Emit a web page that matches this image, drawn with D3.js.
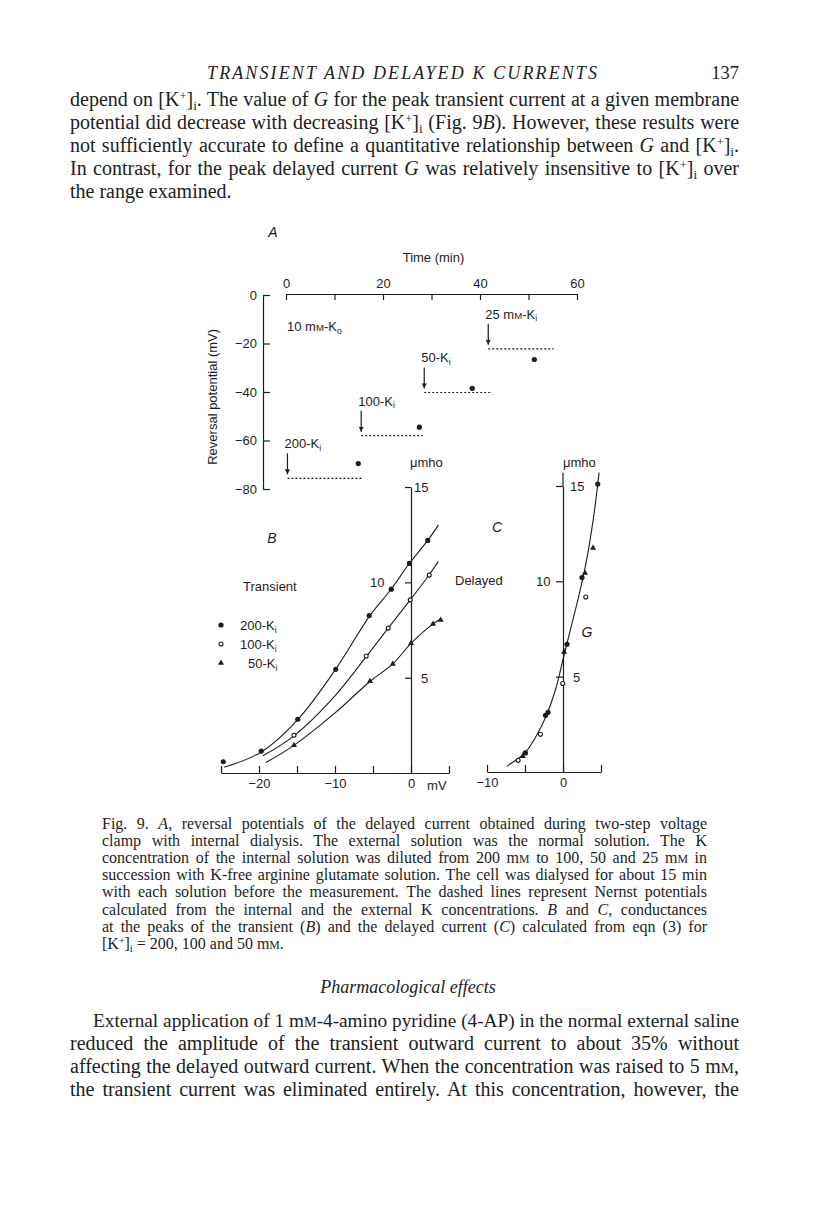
<!DOCTYPE html>
<html>
<head>
<meta charset="utf-8">
<script src="https://cdn.jsdelivr.net/npm/d3@7"></script>
<style>
  body { margin: 0; background: #fff; }
</style>
</head>
<body>
<div id="page"></div>
<script>
// ---- panel A : reversal potential vs time ----
const timeTicks = [0, 10, 20, 30, 40, 50, 60];
const vrevTicks = [0, -20, -40, -60, -80];
const solLabels = ['200-K_{i}', '100-K_{i}', '50-K_{i}', '25 m~M~-K_{i}'];
const arrowTime = [0.3, 15.5, 28.5, 41.7];
const nernstEnd = [15.8, 28.2, 42.2, 55.2];
const nernstVal = [-75.6, -58.0, -40.2, -22.2];
const measTime = [14.9, 27.5, 38.4, 51.2];
const measVal = [-69.5, -54.5, -38.5, -26.6];

// ---- panel B : transient conductance ----
const bVolt200 = [-24.7, -19.7, -14.9, -9.9, -5.5, -2.6, -0.2, 2.2];
const bG200 = [0.59, 1.15, 2.82, 5.44, 8.26, 9.64, 10.99, 12.2];
const bVolt100 = [-15.4, -5.9, -3.0, -0.1, 2.4];
const bG100 = [1.98, 6.14, 7.6, 9.08, 10.38];
const bVolt50 = [-15.4, -5.4, -2.4, 0, 2.9, 3.9];
const bG50 = [1.45, 4.81, 5.72, 6.8, 7.82, 8.03];
// fitted curves drawn by hand in the original
const fitVolt200 = [-24.6, -19.7, -14.9, -9.9, -5.5, -2.6, -0.2, 2.2, 3.6];
const fitG200 = [0.3, 1.1, 2.8, 5.45, 8.2, 9.65, 11.0, 12.2, 13.0];
const fitVolt100 = [-19.5, -15.4, -10, -5.9, -3, -0.1, 2.4, 3.6];
const fitG100 = [0.9, 1.95, 4.05, 6.1, 7.6, 9.08, 10.4, 11.1];
const fitVolt50 = [-19.1, -15.4, -10, -5.4, -2.4, 0, 2.9, 4.0];
const fitG50 = [0.55, 1.45, 3.15, 4.8, 5.72, 6.8, 7.82, 8.1];
const bVoltTicks = [-25, -20, -15, -10, -5, 0, 5];
const gTicks = [5, 10, 15];

// ---- panel C : delayed conductance ----
const cVolt200 = [4.57, 2.5, 0.53, -1.97, -2.3, -4.95];
const cG200 = [15.1, 10.2, 6.7, 3.13, 2.97, 1.0];
const cVolt100 = [3.0, -0.04, -2.97, -5.9];
const cG100 = [9.18, 4.64, 1.98, 0.61];
const cVolt50 = [3.95, 2.9, 0.15, -5.3];
const cG50 = [11.75, 10.44, 6.3, 0.82];
const fitVoltC = [-7.4, -6, -5, -3.5, -2.2, -1, 0, 1, 2, 3, 4, 4.75];
const fitGC = [0.3, 0.68, 1.0, 1.9, 2.95, 4.3, 5.9, 7.5, 9.1, 10.9, 13.3, 15.7];
const cVoltTicks = [-10, -5, 0, 5];

// ---- page text ----
const headerText = 'TRANSIENT AND DELAYED K CURRENTS';
const pageNumber = '137';
const para1 = [
  'depend on [K^{+}]_{i}. The value of *G* for the peak transient current at a given membrane',
  'potential did decrease with decreasing [K^{+}]_{i} (Fig. 9*B*). However, these results were',
  'not sufficiently accurate to define a quantitative relationship between *G* and [K^{+}]_{i}.',
  'In contrast, for the peak delayed current *G* was relatively insensitive to [K^{+}]_{i} over',
  'the range examined.'
];
const caption = [
  'Fig. 9. *A*, reversal potentials of the delayed current obtained during two-step voltage',
  'clamp with internal dialysis. The external solution was the normal solution. The K',
  'concentration of the internal solution was diluted from 200 m~M~ to 100, 50 and 25 m~M~ in',
  'succession with K-free arginine glutamate solution. The cell was dialysed for about 15 min',
  'with each solution before the measurement. The dashed lines represent Nernst potentials',
  'calculated from the internal and the external K concentrations. *B* and *C*, conductances',
  'at the peaks of the transient (*B*) and the delayed current (*C*) calculated from eqn (3) for',
  '[K^{+}]_{i} = 200, 100 and 50 m~M~.'
];
const sectionTitle = 'Pharmacological effects';
const para2 = [
  'External application of 1 m~M~-4-amino pyridine (4-AP) in the normal external saline',
  'reduced the amplitude of the transient outward current to about 35% without',
  'affecting the delayed outward current. When the concentration was raised to 5 m~M~,',
  'the transient current was eliminated entirely. At this concentration, however, the'
];

const W = 816, H = 1212;
const ink = '#1d1d1d';
const sans = "'Liberation Sans', Arial, sans-serif";
const serif = "'Liberation Serif', 'Times New Roman', serif";

const svg = d3.select('#page').append('svg')
  .attr('width', W).attr('height', H)
  .style('background', '#fff');

// small markup: *italic*  ^{sup}  _{sub}  ~smallcap~
function fillSpans(t, str, size) {
  t.selectAll('tspan').remove();
  let shift = 0;
  str.split(/(\*[^*]+\*|\^\{[^}]*\}|_\{[^}]*\}|~[^~]+~)/).filter(s => s).forEach(s => {
    const sp = t.append('tspan');
    let dy = 0;
    if (s[0] === '*' && s.length > 1) {
      sp.text(s.slice(1, -1)).attr('font-style', 'italic');
    } else if (s.startsWith('^{')) {
      sp.text(s.slice(2, -1)).attr('font-size', size * 0.62);
      dy = -size * 0.28;
    } else if (s.startsWith('_{')) {
      sp.text(s.slice(2, -1)).attr('font-size', size * 0.66);
      dy = size * 0.2;
    } else if (s[0] === '~') {
      sp.text(s.slice(1, -1)).attr('font-size', size * 0.74);
    } else {
      sp.text(s);
    }
    if (dy - shift !== 0) sp.attr('dy', dy - shift);
    shift = dy;
  });
}

function richText(g, str, x, y, o) {
  let size = o.size;
  const t = g.append('text')
    .attr('x', x).attr('y', y)
    .attr('font-family', o.family)
    .attr('font-size', size)
    .attr('fill', ink);
  if (o.anchor) t.attr('text-anchor', o.anchor);
  if (o.italic) t.attr('font-style', 'italic');
  if (o.rotate) t.attr('transform', `rotate(${o.rotate},${x},${y})`);
  fillSpans(t, str, size);
  // justify: shrink the face if the line is too long, then widen word gaps
  if (o.width) {
    let natural = t.node().getComputedTextLength();
    while (natural > o.width && size > 8) {
      size -= 0.25;
      t.attr('font-size', size);
      fillSpans(t, str, size);
      natural = t.node().getComputedTextLength();
    }
    const gaps = (t.text().match(/ /g) || []).length;
    if (o.letters) {
      t.attr('letter-spacing', (o.width - natural) / (t.text().length - 1));
    } else if (gaps) {
      t.attr('word-spacing', (o.width - natural) / gaps);
    }
  }
  return t;
}

// ---------- page text ----------
const textG = svg.append('g');
richText(textG, headerText, 207, 79, { family: serif, size: 18, italic: true, width: 390, letters: true });
richText(textG, pageNumber, 739, 79, { family: serif, size: 18.5, anchor: 'end' });

para1.forEach((line, i) => {
  const last = i === para1.length - 1;
  richText(textG, line, 70, 106 + i * 23, { family: serif, size: 20, width: last ? null : 669 });
});

caption.forEach((line, i) => {
  const last = i === caption.length - 1;
  richText(textG, line, 102, 829 + i * 17.1, { family: serif, size: 16, width: last ? null : 605 });
});

richText(textG, sectionTitle, 408, 993, { family: serif, size: 18, italic: true, anchor: 'middle' });

para2.forEach((line, i) => {
  const x0 = i === 0 ? 93 : 70;
  richText(textG, line, x0, 1027 + i * 23, { family: serif, size: 20, width: 739 - x0 });
});

// ---------- figure helpers ----------
function styleAxis(sel) {
  sel.attr('font-family', sans).attr('font-size', 13);
  sel.selectAll('path, line').attr('stroke', ink).attr('stroke-width', 1.2);
  sel.selectAll('text').attr('fill', ink);
}
const fmt = d3.format('');
const figG = svg.append('g');

// ---------- panel A ----------
const xA = d3.scaleLinear().domain([0, 60]).range([286, 577]);
const yA = d3.scaleLinear().domain([0, -80]).range([295, 489]);

figG.append('g')
  .attr('transform', `translate(0,${yA(0) - 1})`)
  .call(d3.axisTop(xA).tickValues(timeTicks).tickSize(-6).tickSizeOuter(0).tickPadding(6)
    .tickFormat(d => d % 20 === 0 ? fmt(d) : ''))
  .call(styleAxis);

figG.append('g')
  .attr('transform', `translate(263,0)`)
  .call(d3.axisLeft(yA).tickValues(vrevTicks).tickSize(-7).tickSizeOuter(0).tickPadding(6))
  .call(styleAxis);

richText(figG, 'Time (min)', xA(30) + 2, 262, { family: sans, size: 13, anchor: 'middle' });
richText(figG, 'Reversal potential (mV)', 217, yA(-42), { family: sans, size: 13, anchor: 'middle', rotate: -90 });
richText(figG, 'A', 273, 237, { family: sans, size: 14, italic: true, anchor: 'middle' });
richText(figG, '10 m~M~-K_{o}', 287, 331, { family: sans, size: 13 });

const defs = svg.append('defs');
defs.append('marker')
  .attr('id', 'arrowHead')
  .attr('viewBox', '0 0 10 10')
  .attr('refX', 10).attr('refY', 5)
  .attr('markerWidth', 5).attr('markerHeight', 5)
  .attr('markerUnits', 'userSpaceOnUse')
  .attr('orient', 'auto')
  .append('path').attr('d', 'M0,0 L10,5 L0,10 Z').attr('fill', ink);

const stepsA = d3.range(arrowTime.length);
const aG = figG.append('g');
aG.selectAll('line.nernst').data(stepsA).enter().append('line')
  .attr('class', 'nernst')
  .attr('x1', i => xA(arrowTime[i])).attr('x2', i => xA(nernstEnd[i]))
  .attr('y1', i => yA(nernstVal[i])).attr('y2', i => yA(nernstVal[i]))
  .attr('stroke', ink).attr('stroke-width', 1.2).attr('stroke-dasharray', '2,2');
aG.selectAll('line.arrow').data(stepsA).enter().append('line')
  .attr('class', 'arrow')
  .attr('x1', i => xA(arrowTime[i])).attr('x2', i => xA(arrowTime[i]))
  .attr('y1', i => yA(nernstVal[i]) - 25).attr('y2', i => yA(nernstVal[i]) - 4)
  .attr('stroke', ink).attr('stroke-width', 1.2).attr('marker-end', 'url(#arrowHead)');
aG.selectAll('circle').data(stepsA).enter().append('circle')
  .attr('cx', i => xA(measTime[i])).attr('cy', i => yA(measVal[i]))
  .attr('r', 2.6).attr('fill', ink);
stepsA.forEach(i => {
  richText(aG, solLabels[i], xA(arrowTime[i]) - 3, yA(nernstVal[i]) - 30, { family: sans, size: 13 });
});

// ---------- marker drawing ----------
const triangle = d3.symbol().type(d3.symbolTriangle).size(16);
function drawPoints(g, xs, ys, sx, sy, kind) {
  const pts = d3.range(xs.length).map(i => [sx(xs[i]), sy(ys[i])]);
  if (kind === 'filled') {
    g.selectAll(null).data(pts).enter().append('circle')
      .attr('cx', d => d[0]).attr('cy', d => d[1]).attr('r', 2.6).attr('fill', ink);
  } else if (kind === 'open') {
    g.selectAll(null).data(pts).enter().append('circle')
      .attr('cx', d => d[0]).attr('cy', d => d[1]).attr('r', 2.0)
      .attr('fill', '#fff').attr('stroke', ink).attr('stroke-width', 1.1);
  } else {
    g.selectAll(null).data(pts).enter().append('path')
      .attr('d', triangle).attr('transform', d => `translate(${d[0]},${d[1]})`).attr('fill', ink);
  }
}
function drawCurve(g, xs, ys, sx, sy) {
  const line = d3.line().x(i => sx(xs[i])).y(i => sy(ys[i])).curve(d3.curveCatmullRom.alpha(0.5));
  g.append('path').attr('d', line(d3.range(xs.length)))
    .attr('fill', 'none').attr('stroke', ink).attr('stroke-width', 1.1);
}

// ---------- panel B ----------
const xB = d3.scaleLinear().domain([-25, 5]).range([221, 449]);
const yB = d3.scaleLinear().domain([0, 15]).range([773, 487]);
const bG = figG.append('g');

bG.append('g')
  .attr('transform', `translate(0,${yB(0)})`)
  .call(d3.axisBottom(xB).tickValues(bVoltTicks).tickSize(-7).tickSizeOuter(0).tickPadding(6)
    .tickFormat(d => d % 10 === 0 ? fmt(d) : ''))
  .call(styleAxis);
bG.append('g')
  .attr('transform', `translate(${xB(0)},0)`)
  .call(d3.axisLeft(yB).tickValues(gTicks).tickSize(6).tickSizeOuter(0).tickFormat(''))
  .call(styleAxis);

richText(bG, '15', xB(0) + 3, yB(15) + 5, { family: sans, size: 13 });
richText(bG, '10', xB(0) - 41, yB(10) + 5, { family: sans, size: 13 });
richText(bG, '5', xB(0) + 10, yB(5) + 5, { family: sans, size: 13 });
richText(bG, 'mV', xB(3.4), yB(0) + 17, { family: sans, size: 13, anchor: 'middle' });
richText(bG, '\u03bcmho', xB(0) - 1, 467, { family: sans, size: 13 });
richText(bG, 'B', 272, 543, { family: sans, size: 14, italic: true, anchor: 'middle' });
richText(bG, 'Transient', 243, 591, { family: sans, size: 13 });

drawCurve(bG, fitVolt200, fitG200, xB, yB);
drawCurve(bG, fitVolt100, fitG100, xB, yB);
drawCurve(bG, fitVolt50, fitG50, xB, yB);
drawPoints(bG, bVolt200, bG200, xB, yB, 'filled');
drawPoints(bG, bVolt100, bG100, xB, yB, 'open');
drawPoints(bG, bVolt50, bG50, xB, yB, 'tri');

// legend
const legendKinds = ['filled', 'open', 'tri'];
const legendText = ['200-K_{i}', '100-K_{i}', '50-K_{i}'];
const legendG = bG.append('g');
legendKinds.forEach((k, i) => {
  const ly = 625 + i * 19;
  const one = d3.scaleLinear().domain([0, 1]).range([0, 1]);
  drawPoints(legendG, [221], [ly], one, one, k);
  richText(legendG, legendText[i], i === 2 ? 248 : 240, ly + 5, { family: sans, size: 13 });
});

// ---------- panel C ----------
const xC = d3.scaleLinear().domain([-10, 5]).range([487, 601]);
const yC = d3.scaleLinear().domain([0, 15]).range([772, 486]);
const cG = figG.append('g');

cG.append('g')
  .attr('transform', `translate(0,${yC(0)})`)
  .call(d3.axisBottom(xC).tickValues(cVoltTicks).tickSize(-7).tickSizeOuter(0).tickPadding(6)
    .tickFormat(d => d % 10 === 0 ? fmt(d) : ''))
  .call(styleAxis);
cG.append('g')
  .attr('transform', `translate(${xC(0)},0)`)
  .call(d3.axisLeft(yC).tickValues(gTicks).tickSize(7).tickSizeOuter(0).tickFormat(''))
  .call(styleAxis);
cG.append('line')
  .attr('x1', xC(0)).attr('x2', xC(0))
  .attr('y1', yC(15)).attr('y2', yC(15.7))
  .attr('stroke', ink).attr('stroke-width', 1.2);

richText(cG, '15', xC(0) + 7, yC(15) + 5, { family: sans, size: 13 });
richText(cG, '10', xC(0) - 27, yC(10) + 5, { family: sans, size: 13 });
richText(cG, '5', xC(0) + 10, yC(5) + 5, { family: sans, size: 13 });
richText(cG, '\u03bcmho', xC(0), 467, { family: sans, size: 13 });
richText(cG, 'C', 497, 532, { family: sans, size: 14, italic: true, anchor: 'middle' });
richText(cG, 'Delayed', 455, 585, { family: sans, size: 13 });
richText(cG, 'G', 587, 637, { family: sans, size: 14, italic: true, anchor: 'middle' });

drawCurve(cG, fitVoltC, fitGC, xC, yC);
drawPoints(cG, cVolt200, cG200, xC, yC, 'filled');
drawPoints(cG, cVolt100, cG100, xC, yC, 'open');
drawPoints(cG, cVolt50, cG50, xC, yC, 'tri');
</script>
</body>
</html>
